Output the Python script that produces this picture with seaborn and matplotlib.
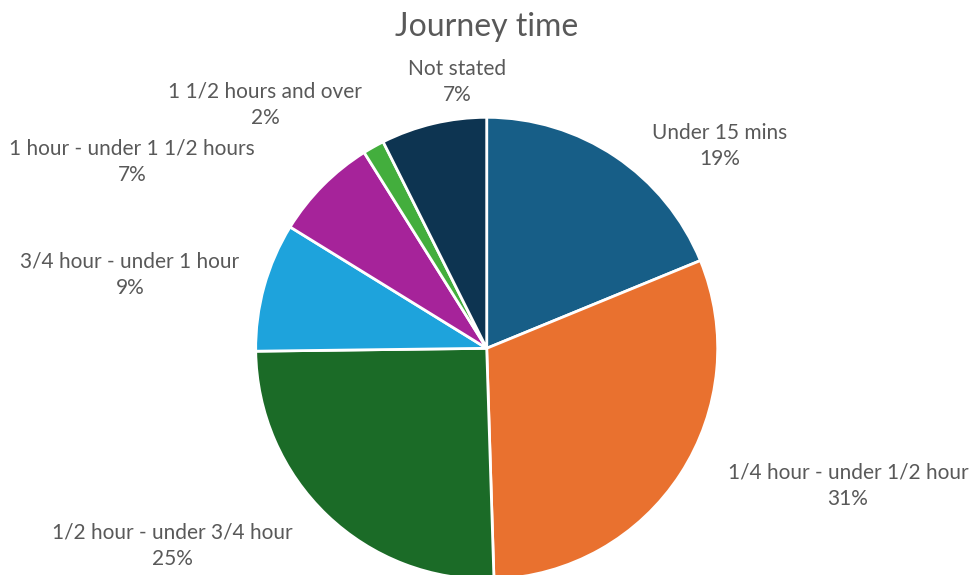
import matplotlib
matplotlib.use("Agg")
import matplotlib.pyplot as plt
import seaborn as sns

# Data (share of journeys, %)
categories = [
    "Under 15 mins",
    "1/4 hour - under 1/2 hour",
    "1/2 hour - under 3/4 hour",
    "3/4 hour - under 1 hour",
    "1 hour - under 1 1/2 hours",
    "1 1/2 hours and over",
    "Not stated",
]
shares = [18.8, 30.7, 25.3, 9.0, 7.3, 1.5, 7.4]
pct_labels = ["19%", "31%", "25%", "9%", "7%", "2%", "7%"]
colors = ["#175e87", "#e9712f", "#1b6b27", "#1ea3dc", "#a6239a", "#43ae3d", "#0d3451"]

# label placement (pie radius units), mimics the best-fit layout of the original
label_pos = [(1.01, 0.876), (1.564, -0.596), (-1.362, -0.856), (-1.544, 0.317),
             (-1.535, 0.806), (-0.960, 1.053), (-0.129, 1.153)]

sns.set_theme(style="white")
plt.rcParams["font.family"] = ["Lato", "DejaVu Sans"]
text_color = "#595959"

fig = plt.figure(figsize=(9.73, 5.75), dpi=100)
ax = fig.add_axes([0, 0, 1, 1])

ax.pie(shares, colors=colors, startangle=90, counterclock=False,
       radius=1, center=(0, 0),
       wedgeprops=dict(edgecolor="white", linewidth=2))

for name, pct, (x, y) in zip(categories, pct_labels, label_pos):
    ax.text(x, y, name + "\n" + pct, ha="center", va="center",
            fontsize=15, color=text_color, linespacing=1.4)

# map the axes so the pie sits where it does in the original
r_px = 231
cx, cy = 486.7, 348.3
ax.set_xlim(-cx / r_px, (973 - cx) / r_px)
ax.set_ylim(-(575 - cy) / r_px, cy / r_px)
ax.set_aspect("auto")
ax.axis("off")

fig.text(0.5, 1 - 27 / 575, "Journey time", ha="center", va="center",
         fontsize=23, color=text_color)

fig.savefig("out.png", dpi=100, facecolor="white")
